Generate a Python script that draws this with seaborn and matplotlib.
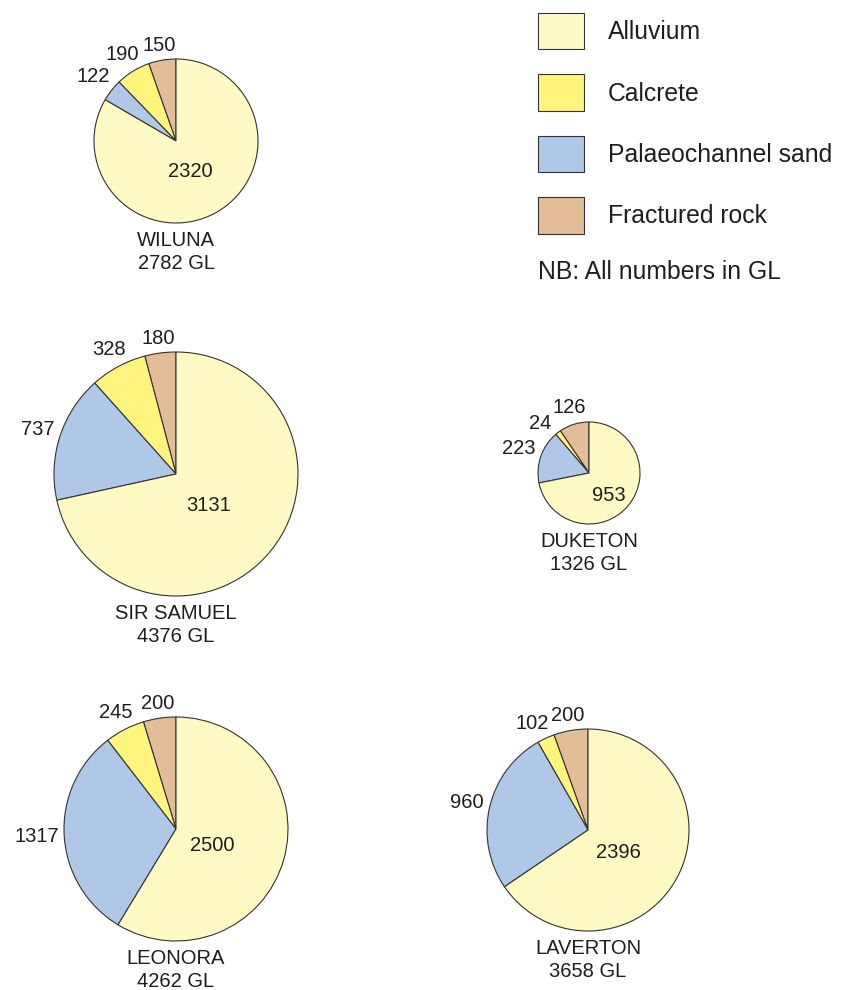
import matplotlib

matplotlib.use("Agg")
import matplotlib.pyplot as plt
import numpy as np
import seaborn as sns
from matplotlib.patches import Patch

# --- data (GL) ---
categories = ["Fractured rock", "Calcrete", "Palaeochannel sand", "Alluvium"]
legend_order = ["Alluvium", "Calcrete", "Palaeochannel sand", "Fractured rock"]
regions = ["WILUNA", "SIR SAMUEL", "DUKETON", "LEONORA", "LAVERTON"]
totals = [2782, 4376, 1326, 4262, 3658]
fractured = [150, 180, 126, 200, 200]
calcrete = [190, 328, 24, 245, 102]
palaeo = [122, 737, 223, 1317, 960]
alluvium = [2320, 3131, 953, 2500, 2396]

colors = ["#E3BD98", "#FFF47E", "#AFC8E8", "#FFF9C4"]
colour_of = dict(zip(categories, colors))
edge = "#333333"
text_c = "#1e1e1e"

# layout in pixels (x, y from top) and radius
W, H = 843, 990
centres = [(176, 141), (176, 474), (589, 473), (176, 829), (588, 830)]
radii = [82, 122, 51, 112, 101]

sns.set_style("white")
plt.rcParams["font.family"] = ["Liberation Sans", "DejaVu Sans"]

fig = plt.figure(figsize=(W / 100, H / 100), dpi=100)
ax = fig.add_axes([0, 0, 1, 1])

label_fs = 14.5
outer = []  # per pie: list of (text, centre, radius, angle)
for k, name in enumerate(regions):
    cx, cy = centres[k]
    r = radii[k]
    vals = [fractured[k], calcrete[k], palaeo[k], alluvium[k]]
    wedges, _ = ax.pie(
        vals,
        colors=colors,
        startangle=90,
        counterclock=True,
        center=(cx, H - cy),
        radius=r,
        frame=True,
        wedgeprops=dict(edgecolor=edge, linewidth=0.8),
    )
    group = []
    for w, v in zip(wedges, vals):
        mid = np.deg2rad((w.theta1 + w.theta2) / 2)
        if w is wedges[-1]:
            d = max(0.34 * r, 26)
            ax.text(cx + d * np.cos(mid), H - cy + d * np.sin(mid) - 6, str(v),
                    ha="center", va="center", fontsize=label_fs, color=text_c)
        else:
            t = ax.text(0, 0, str(v), ha="center", va="center",
                        fontsize=label_fs, color=text_c)
            group.append((t, (cx, H - cy), r, mid))
    outer.append(group)
    ax.text(cx, H - (cy + r + 29), f"{name}\n{totals[k]} GL", ha="center",
            va="center", fontsize=label_fs, color=text_c, linespacing=1.28)

ax.set_xlim(0, W)
ax.set_ylim(0, H)
ax.set_aspect("equal")
ax.axis("off")

# put the outside labels just clear of the rim, nudging round if they collide
fig.canvas.draw()
renderer = fig.canvas.get_renderer()


def place(cx, cy, r, a, hw, hh):
    d = r + 5 + hw * abs(np.cos(a)) + hh * abs(np.sin(a))
    return cx + d * np.cos(a), cy + d * np.sin(a)


for group in outer:
    prev = None
    for t, (cx, cy), r, a in group:
        bb = t.get_window_extent(renderer)
        hw, hh = bb.width / 2, bb.height / 2 - 2
        x, y = place(cx, cy, r, a, hw, hh)
        if prev is not None:
            px, py, phw, phh = prev
            while abs(x - px) < hw + phw + 1 and abs(y - py) < hh + phh:
                a += np.deg2rad(1)
                x, y = place(cx, cy, r, a, hw, hh)
        t.set_position((x, y))
        prev = (x, y, hw, hh)

leg_fs = 17.8
em = leg_fs * 100 / 72
handles = [Patch(facecolor=colour_of[n], edgecolor=edge, linewidth=0.8, label=n)
           for n in legend_order]
ax.legend(
    handles=handles,
    loc="upper left",
    bbox_to_anchor=(538 / W, 1 - 13 / H),
    bbox_transform=fig.transFigure,
    frameon=False,
    fontsize=leg_fs,
    borderpad=0,
    borderaxespad=0,
    handlelength=46 / em,
    handleheight=1.89,
    labelspacing=(63 - 38) / em,
    handletextpad=24 / em,
    labelcolor=text_c,
)
ax.text(538, H - 272, "NB: All numbers in GL", ha="left", va="center",
        fontsize=leg_fs, color=text_c)

fig.savefig("out.png", dpi=100, facecolor="white")
